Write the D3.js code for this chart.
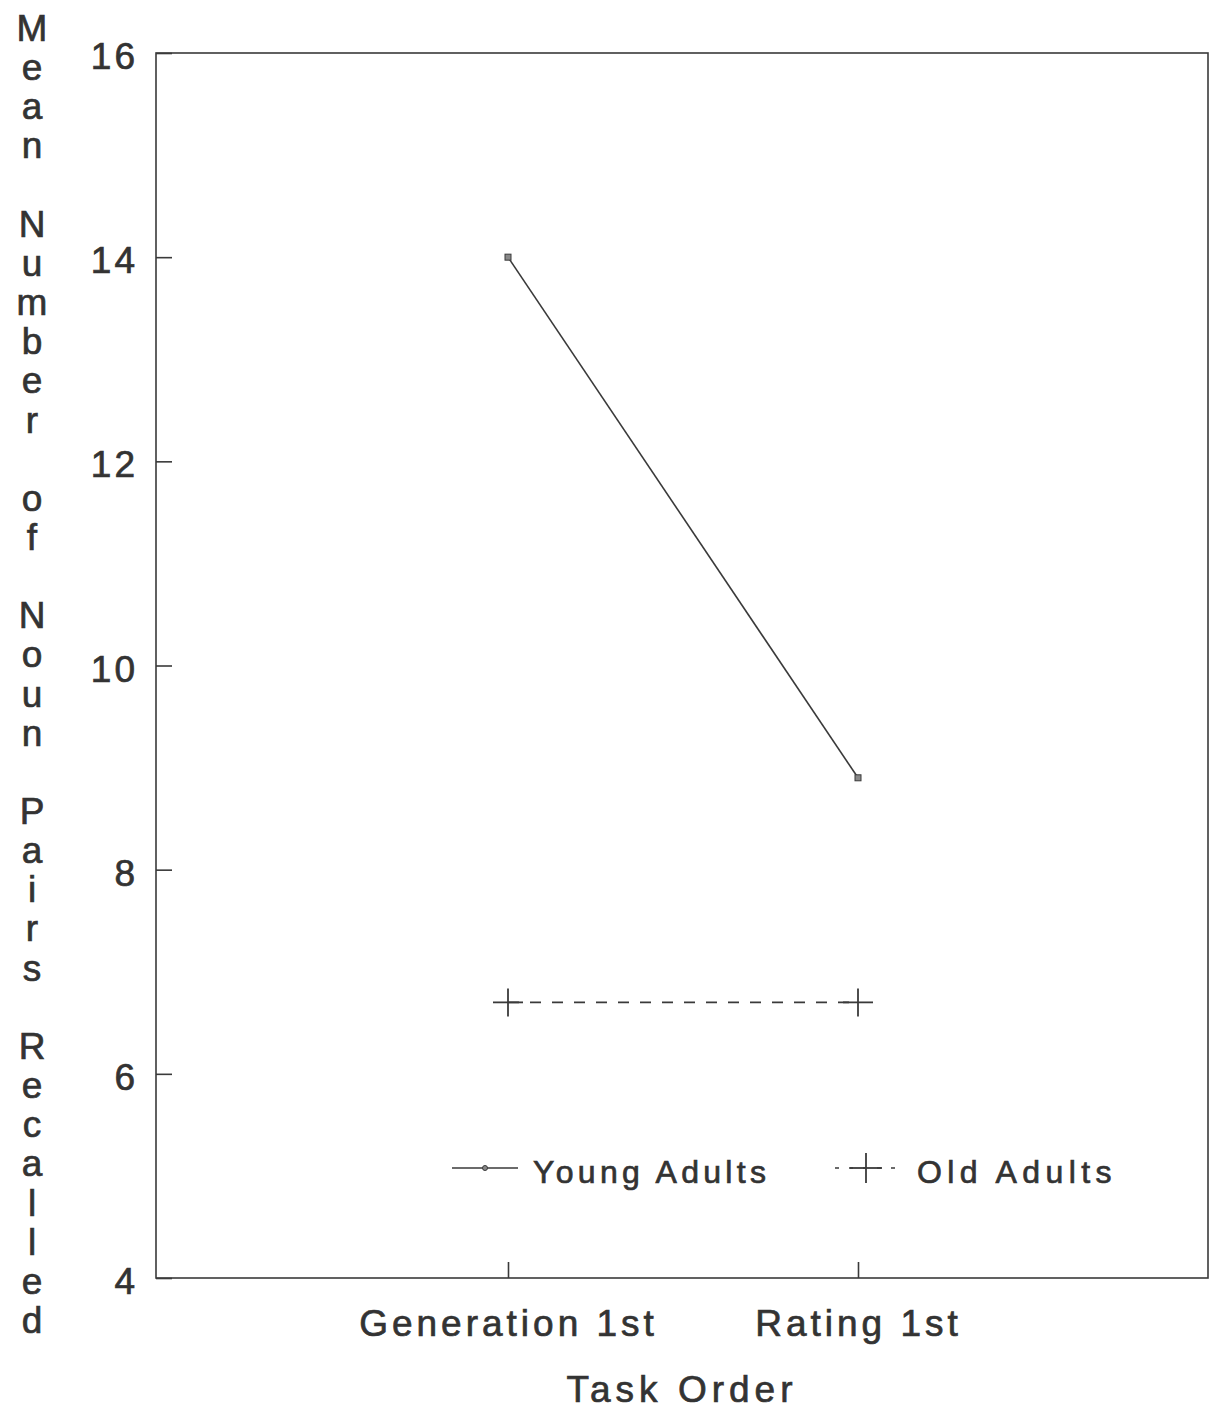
<!DOCTYPE html>
<html><head><meta charset="utf-8">
<script src="https://cdn.jsdelivr.net/npm/d3@7"></script>
<style>
body{margin:0;background:#fff;}
text{font-family:"Liberation Sans",Arial,sans-serif;fill:#333;stroke:#333;stroke-width:0.7px;}
</style></head>
<body>
<svg id="chart" width="1210" height="1410"></svg>
<script>
const categories = ["Generation 1st", "Rating 1st"];
const youngValues = [14.0, 8.9];
const oldValues = [6.7, 6.7];
const yTicks = [4, 6, 8, 10, 12, 14, 16];
const seriesNames = ["Young Adults", "Old Adults"];
const yTitle = "Mean Number of Noun Pairs Recalled";
const xTitle = "Task Order";

const svg = d3.select("#chart");
const L = 156, R = 1208, T = 53, B = 1278;
const ink = "#3a3a3a";

const y = d3.scaleLinear().domain([4, 16]).range([B, T]);
const x = d3.scalePoint().domain(categories).range([508, 858]);

// frame
svg.append("rect").attr("x", L).attr("y", T).attr("width", R - L).attr("height", B - T)
  .attr("fill", "none").attr("stroke", ink).attr("stroke-width", 1.6);

// y axis
const yAxis = d3.axisLeft(y).tickValues(yTicks).tickSize(-16).tickPadding(18).tickFormat(d3.format("d"));
const gy = svg.append("g").attr("transform", `translate(${L},0)`).call(yAxis);
gy.select(".domain").remove();
gy.selectAll(".tick line").attr("stroke", ink).attr("stroke-width", 1.6);
gy.selectAll(".tick text").attr("font-size", 37).attr("fill", "#333").attr("dy", "0.42em")
  .style("letter-spacing", "3px").attr("font-family", "Liberation Sans, Arial, sans-serif");

// x axis
const xAxis = d3.axisBottom(x).tickSize(-16).tickPadding(32);
const gx = svg.append("g").attr("transform", `translate(0,${B})`).call(xAxis);
gx.select(".domain").remove();
gx.selectAll(".tick line").attr("stroke", ink).attr("stroke-width", 1.6);
gx.selectAll(".tick text").attr("font-size", 37).attr("fill", "#333")
  .style("letter-spacing", "4px").attr("font-family", "Liberation Sans, Arial, sans-serif");

// x title
svg.append("text").attr("x", 682).attr("y", 1402).attr("text-anchor", "middle")
  .attr("font-size", 37).style("letter-spacing", "5px").text(xTitle);

// y title: stacked letters
const chars = Array.from(yTitle);
svg.append("g").selectAll("text").data(chars).join("text")
  .attr("x", 32).attr("y", (d, i) => 41 + i * 39.15)
  .attr("text-anchor", "middle").attr("font-size", 37).text(d => d);

// lines
const line = d3.line().x((d, i) => x(categories[i])).y(d => y(d));
svg.append("path").datum(youngValues).attr("d", line)
  .attr("fill", "none").attr("stroke", ink).attr("stroke-width", 1.6);
svg.append("path").datum(oldValues).attr("d", line)
  .attr("fill", "none").attr("stroke", ink).attr("stroke-width", 1.8).attr("stroke-dasharray", "11,11");

// markers
svg.selectAll(".ym").data(youngValues).join("rect")
  .attr("x", (d, i) => x(categories[i]) - 3).attr("y", d => y(d) - 3)
  .attr("width", 6).attr("height", 6).attr("fill", "#888").attr("stroke", ink).attr("stroke-width", 1);

function plus(g, cx, cy, w, h) {
  g.append("line").attr("x1", cx - w / 2).attr("x2", cx + w / 2).attr("y1", cy).attr("y2", cy)
    .attr("stroke", ink).attr("stroke-width", 1.8);
  g.append("line").attr("x1", cx).attr("x2", cx).attr("y1", cy - h / 2).attr("y2", cy + h / 2)
    .attr("stroke", ink).attr("stroke-width", 1.8);
}
oldValues.forEach((v, i) => plus(svg, x(categories[i]), y(v), 30, 28));

// legend
const ly = 1168;
const lg = svg.append("g");
lg.append("line").attr("x1", 452).attr("x2", 518).attr("y1", ly).attr("y2", ly).attr("stroke", ink).attr("stroke-width", 1.6);
lg.append("circle").attr("cx", 485).attr("cy", ly).attr("r", 2.5).attr("fill", "#888").attr("stroke", ink);
lg.append("text").attr("x", 533).attr("y", ly + 15).attr("font-size", 32).style("letter-spacing", "4.3px").text(seriesNames[0]);
lg.append("line").attr("x1", 835).attr("x2", 900).attr("y1", ly).attr("y2", ly).attr("stroke", ink)
  .attr("stroke-width", 1.6).attr("stroke-dasharray", "4,10");
plus(lg, 866, ly, 32, 30);
lg.append("text").attr("x", 917).attr("y", ly + 15).attr("font-size", 32).style("letter-spacing", "5.4px").text(seriesNames[1]);
</script>
</body></html>
